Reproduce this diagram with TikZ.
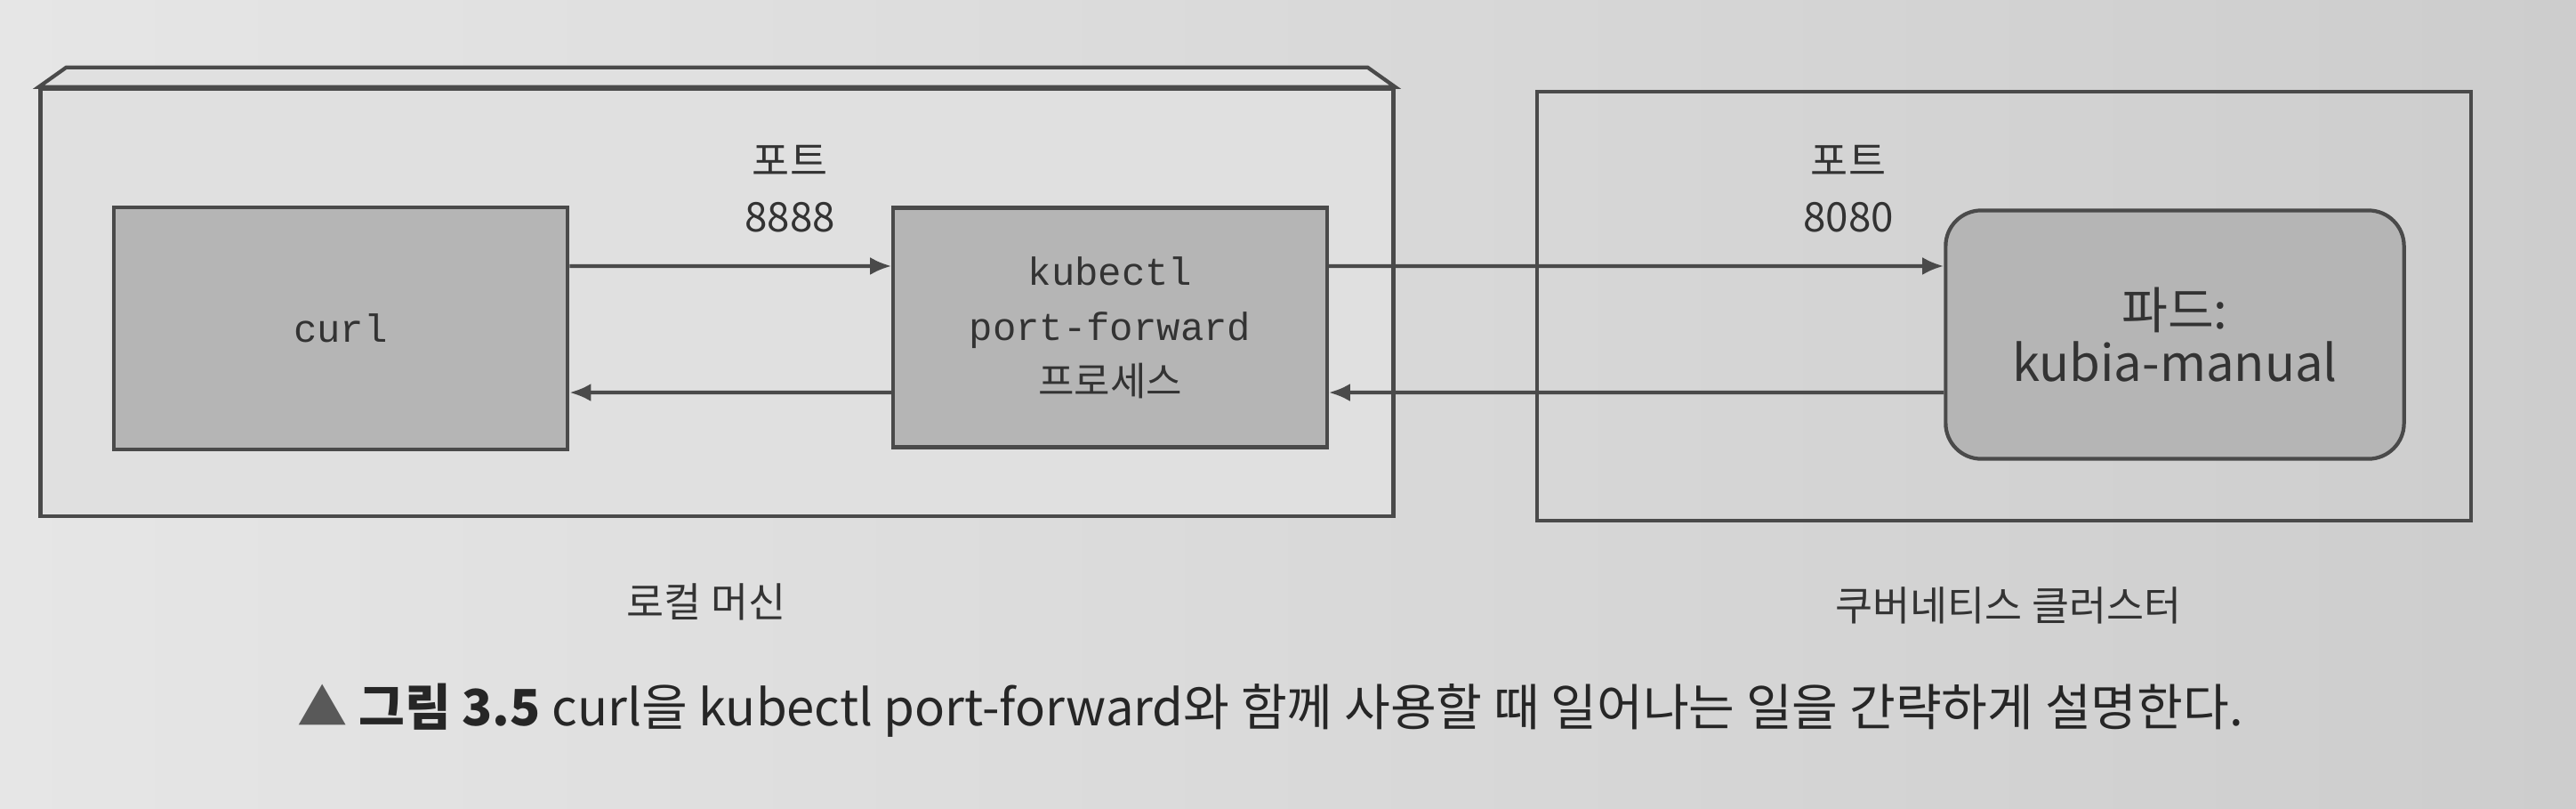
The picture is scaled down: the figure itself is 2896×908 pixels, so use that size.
\documentclass[tikz,border=0pt]{standalone}
\usepackage{fontspec}
\setmonofont{Liberation Mono}
\newfontfamily\kr{Noto Sans CJK KR}
\usetikzlibrary{arrows.meta,positioning,calc}

\definecolor{paper}{HTML}{E6E6E6}
\definecolor{paperdark}{HTML}{CDCDCD}
\definecolor{localgray}{HTML}{E0E0E0}
\definecolor{boxgray}{HTML}{B5B5B5}
\definecolor{edge}{HTML}{4A4A4A}

\begin{document}
\begin{tikzpicture}[x=0.01cm,y=-0.01cm,
    >={Latex[length=2.4mm,width=2mm]},
    line/.style={draw=edge,line width=1.2pt},
    flow/.style={->,draw=edge,line width=1.2pt},
    proc/.style={rectangle,line,fill=boxgray,text=black!80,align=center},
    label/.style={text=black!80,align=center,font=\kr\fontsize{13}{18}\selectfont}]
        \shade[left color=paper,right color=paperdark] (0,0) rectangle (2896,908);
        \useasboundingbox (0,0) rectangle (2896,908);
        % local machine
        \node[line, fill=localgray, minimum width=15.2cm, minimum height=4.8cm] at (806,340) (local) {};
        \draw[line, fill=localgray] (local.north west) -- ++(31,-22) -- ([shift={(-31,-22)}]local.north east) -- (local.north east) -- cycle;
        % cluster
        \node[line, minimum width=10.5cm, minimum height=4.82cm] at (2253,344) (cluster) {};
        \node[proc, minimum width=5.1cm, minimum height=2.72cm, font=\ttfamily\fontsize{12.5}{17.6}\selectfont] at (383,369) (curl) {curl};
        \node[proc, minimum width=4.87cm, minimum height=2.69cm, font=\ttfamily\fontsize{12.5}{17.6}\selectfont] at (1248,368) (kubectl) {kubectl\\port-forward\\{\kr 프로세스}};
        \node[proc, rounded corners=0.4cm, minimum width=5.15cm, minimum height=2.79cm, font=\kr\fontsize{16}{17}\selectfont] at (2445,376) (pod) {파드:\\kubia-manual};
        \node[label] at (888,212) (port8888) {포트\\8888};
        \node[label] at (2078,212) (port8080) {포트\\8080};
        \draw[flow] ([yshift=0.70cm]curl.east) -- ([yshift=0.69cm]kubectl.west);
        \draw[flow] ([yshift=-0.73cm]kubectl.west) -- ([yshift=-0.72cm]curl.east);
        \draw[flow] ([yshift=0.69cm]kubectl.east) -- ([yshift=0.77cm]pod.west);
        \draw[flow] ([yshift=-0.65cm]pod.west) -- ([yshift=-0.73cm]kubectl.east);
        \node[label] at (794,676) (locallbl) {로컬 머신};
        \node[label] at (2258,680) (clusterlbl) {쿠버네티스 클러스터};
        \node[anchor=west, text=black!85, font=\kr\fontsize{16}{18}\selectfont] at (322,798) (caption) {{\color{black!65}▲} \textbf{그림 3.5} curl을 kubectl port-forward와 함께 사용할 때 일어나는 일을 간략하게 설명한다.};
\end{tikzpicture}
\end{document}
